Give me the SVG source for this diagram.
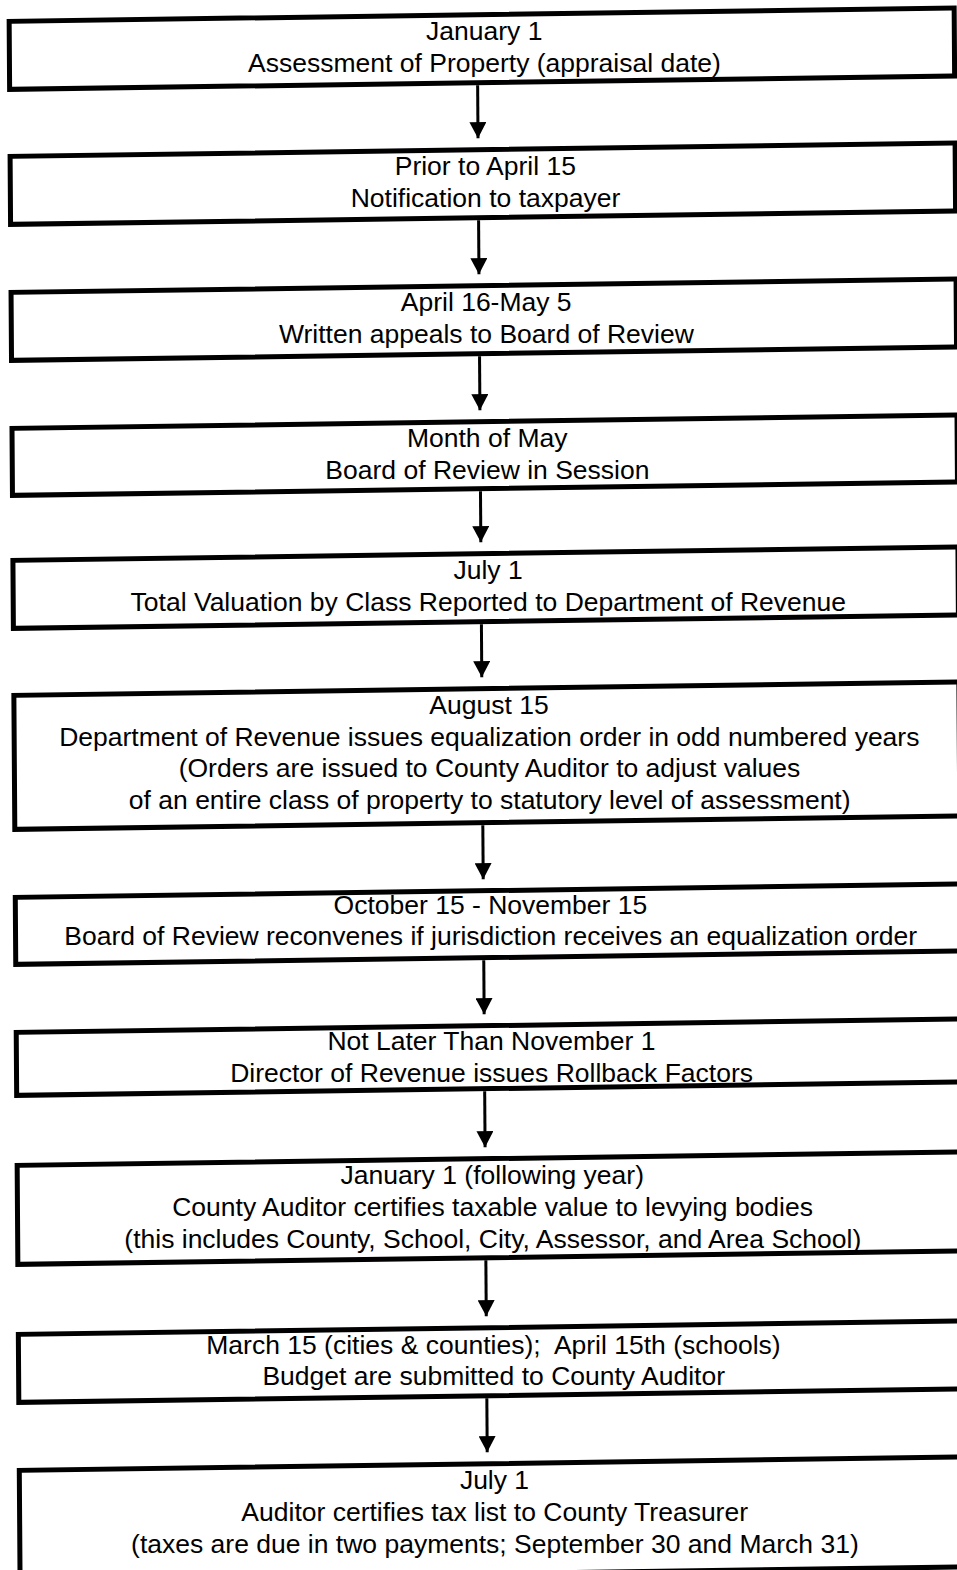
<svg xmlns="http://www.w3.org/2000/svg" width="957" height="1570" viewBox="0 0 957 1570">
<defs>
<style>
.box{fill:#fff;stroke:#000;stroke-width:5}
.t{font-family:"Liberation Sans",Arial,sans-serif;font-size:26.5px;fill:#000;text-anchor:middle}
.c{stroke:#000;stroke-width:3;fill:none}
</style>
<marker id="ah" markerUnits="userSpaceOnUse" markerWidth="18" markerHeight="17" refX="16" refY="8.5" orient="auto" viewBox="0 0 18 17">
<path d="M0,0 L16,8.5 L0,17 Z" fill="#000"/>
</marker>
</defs>
<rect width="957" height="1570" fill="#fff"/>
<g id="connectors" transform="matrix(1 -0.0142 0.007 1 0 0)">
<line class="c" x1="477" y1="92" x2="477" y2="145" marker-end="url(#ah)"/>
<line class="c" x1="477" y1="227" x2="477" y2="281" marker-end="url(#ah)"/>
<line class="c" x1="477" y1="363" x2="477" y2="417" marker-end="url(#ah)"/>
<line class="c" x1="477" y1="498" x2="477" y2="549" marker-end="url(#ah)"/>
<line class="c" x1="477" y1="631" x2="477" y2="684" marker-end="url(#ah)"/>
<line class="c" x1="477" y1="832" x2="477" y2="886" marker-end="url(#ah)"/>
<line class="c" x1="477" y1="967" x2="477" y2="1021" marker-end="url(#ah)"/>
<line class="c" x1="477" y1="1098" x2="477" y2="1154" marker-end="url(#ah)"/>
<line class="c" x1="477" y1="1267" x2="477" y2="1323" marker-end="url(#ah)"/>
<line class="c" x1="477" y1="1405" x2="477" y2="1459" marker-end="url(#ah)"/>
</g>
<g id="n1"><rect class="box" transform="matrix(1 -0.0142 0.007 1 0 0)" x="9" y="21.5" width="945" height="68"/>
<text class="t" x="484.3" y="39.8">January 1</text>
<text class="t" x="484.5" y="71.6">Assessment of Property (appraisal date)</text></g>
<g id="n2"><rect class="box" transform="matrix(1 -0.0142 0.007 1 0 0)" x="9" y="156.5" width="945" height="68"/>
<text class="t" x="485.3" y="174.8">Prior to April 15</text>
<text class="t" x="485.5" y="206.6">Notification to taxpayer</text></g>
<g id="n3"><rect class="box" transform="matrix(1 -0.0142 0.007 1 0 0)" x="9" y="292.5" width="945" height="68"/>
<text class="t" x="486.2" y="310.8">April 16-May 5</text>
<text class="t" x="486.4" y="342.6">Written appeals to Board of Review</text></g>
<g id="n4"><rect class="box" transform="matrix(1 -0.0142 0.007 1 0 0)" x="9" y="428.5" width="945" height="67"/>
<text class="t" x="487.2" y="446.8">Month of May</text>
<text class="t" x="487.4" y="478.6">Board of Review in Session</text></g>
<g id="n5"><rect class="box" transform="matrix(1 -0.0142 0.007 1 0 0)" x="9" y="560.5" width="945" height="68"/>
<text class="t" x="488.1" y="578.8">July 1</text>
<text class="t" x="488.3" y="610.6">Total Valuation by Class Reported to Department of Revenue</text></g>
<g id="n6"><rect class="box" transform="matrix(1 -0.0142 0.007 1 0 0)" x="9" y="695.5" width="945" height="134"/>
<text class="t" x="489" y="713.8">August 15</text>
<text class="t" x="489.3" y="745.6">Department of Revenue issues equalization order in odd numbered years</text>
<text class="t" x="489.5" y="776.8">(Orders are issued to County Auditor to adjust values</text>
<text class="t" x="489.7" y="808.6">of an entire class of property to statutory level of assessment)</text></g>
<g id="n7"><rect class="box" transform="matrix(1 -0.0142 0.007 1 0 0)" x="9" y="897.5" width="945" height="67"/>
<text class="t" x="490.4" y="914.3">October 15 - November 15</text>
<text class="t" x="490.7" y="944.6">Board of Review reconvenes if jurisdiction receives an equalization order</text></g>
<g id="n8"><rect class="box" transform="matrix(1 -0.0142 0.007 1 0 0)" x="9" y="1032.5" width="945" height="63"/>
<text class="t" x="491.4" y="1050.3">Not Later Than November 1</text>
<text class="t" x="491.6" y="1081.6">Director of Revenue issues Rollback Factors</text></g>
<g id="n9"><rect class="box" transform="matrix(1 -0.0142 0.007 1 0 0)" x="9" y="1165.5" width="945" height="99"/>
<text class="t" x="492.3" y="1184.3">January 1 (following year)</text>
<text class="t" x="492.6" y="1215.8">County Auditor certifies taxable value to levying bodies</text>
<text class="t" x="492.8" y="1247.6">(this includes County, School, City, Assessor, and Area School)</text></g>
<g id="n10"><rect class="box" transform="matrix(1 -0.0142 0.007 1 0 0)" x="9" y="1334.5" width="945" height="68"/>
<text class="t" x="493.5" y="1354.3" xml:space="preserve">March 15 (cities &amp; counties);  April 15th (schools)</text>
<text class="t" x="493.7" y="1385">Budget are submitted to County Auditor</text></g>
<g id="n11"><rect class="box" transform="matrix(1 -0.0142 0.007 1 0 0)" x="9" y="1470.5" width="945" height="110"/>
<text class="t" x="494.5" y="1488.8">July 1</text>
<text class="t" x="494.7" y="1520.6">Auditor certifies tax list to County Treasurer</text>
<text class="t" x="494.9" y="1552.6">(taxes are due in two payments; September 30 and March 31)</text></g>
</svg>
